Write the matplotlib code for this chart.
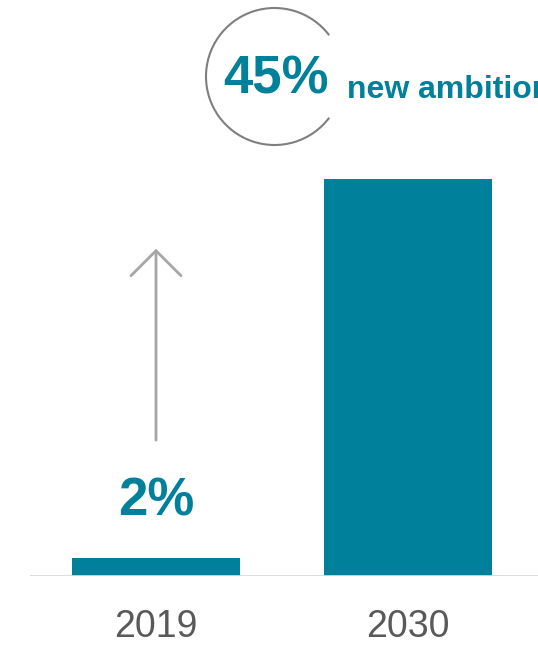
import matplotlib.pyplot as plt
from matplotlib.patches import Arc

plt.rcParams["font.family"] = ["Liberation Sans", "DejaVu Sans"]

years = ["2019", "2030"]
shares = [2, 45]
teal = "#00809B"

fig = plt.figure(figsize=(5.38, 6.49), dpi=100)
W, H = 538, 649
ax = fig.add_axes([30 / W, (H - 576) / H, (W - 30) / W, 576 / H])

x = range(len(years))
ax.bar(x, shares, width=0.667, color=teal, zorder=2)
ax.set_xlim(-0.5, 1.516)
ax.set_ylim(0, 65.3)
ax.axhline(0, color="#d9d9d9", lw=2, zorder=3)
for s in ax.spines.values():
    s.set_visible(False)
ax.set_xticks([])
ax.set_yticks([])

for i, yr in enumerate(years):
    ax.annotate(yr, xy=(i, 0), xytext=(0, -51 * 0.72), textcoords="offset points",
                ha="center", va="center", fontsize=27, color="#595959",
                annotation_clip=False)

# label above the small bar
ax.annotate(f"{shares[0]}%", xy=(0, shares[0]), xytext=(0, 57 * 0.72), textcoords="offset points",
            ha="center", va="center", fontsize=38, fontweight="bold", color=teal)

# growth arrow
ax.annotate("", xy=(0, 37.1), xytext=(0, 15.4),
            arrowprops=dict(arrowstyle="->,head_length=1.8,head_width=1.8",
                            color="#a6a6a6", lw=2, shrinkA=0, shrinkB=0))

# circle callout for the 2030 target
arc = Arc((274.5 / 100, (H - 76.5) / 100), 1.37, 1.37, theta1=37, theta2=323,
          transform=fig.dpi_scale_trans, color="#7f7f7f", lw=1.5)
fig.patches.append(arc)
fig.text(276 / W, (H - 80) / H, f"{shares[1]}%", ha="center", va="center",
         fontsize=38, fontweight="bold", color=teal)
fig.text(347 / W, (H - 98) / H, "new ambition", ha="left", va="baseline",
         fontsize=23, fontweight="bold", color=teal)

fig.savefig("out.png", dpi=100)
